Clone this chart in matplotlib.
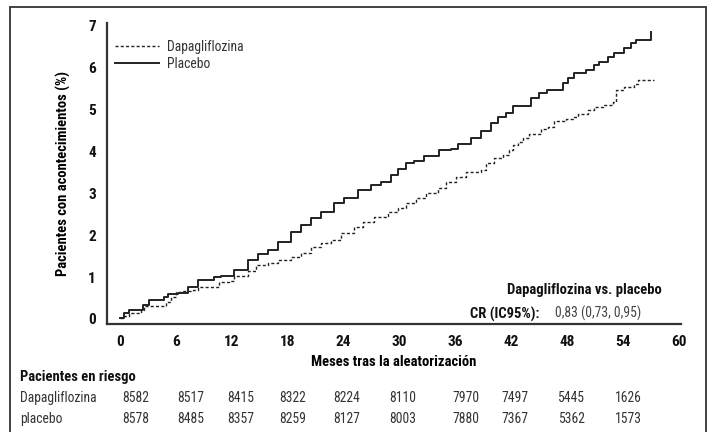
import matplotlib
matplotlib.use("Agg")
import matplotlib.pyplot as plt
from matplotlib import font_manager
from matplotlib.patches import Rectangle

# pick a condensed sans family if one is installed
_names = {f.name for f in font_manager.fontManager.ttflist}
_wanted = ["Liberation Sans Narrow", "Roboto Condensed", "DejaVu Sans Condensed",
           "Open Sans Condensed", "Noto Sans Condensed", "Arial Narrow"]
FONT = next((n for n in _wanted if n in _names), None)
CONDENSED = FONT is not None
if FONT is None:
    FONT = "DejaVu Sans"
plt.rcParams["font.family"] = [FONT, "DejaVu Sans"]
plt.rcParams["font.stretch"] = "condensed"

# Kaplan-Meier style cumulative incidence (%), months since randomisation
placebo_months = [0, 0.43, 0.97, 2.47, 3.11, 4.72, 5.15, 6.22, 7.30, 8.37, 10.09, 10.84,
                  12.23, 13.73, 14.81, 15.88, 16.95, 18.35, 19.42, 20.49, 21.57, 22.96,
                  24.03, 25.54, 26.93, 28.0, 29.08, 29.83, 30.69, 31.55, 32.62, 34.23,
                  35.52, 36.27, 37.66, 38.73, 39.81, 40.56, 41.42, 42.17, 44.10, 44.96,
                  45.82, 47.53, 48.07, 48.71, 50.0, 50.86, 51.39, 52.36, 53.0, 54.08,
                  54.83, 55.36, 56.97]
placebo_pct = [0.02, 0.14, 0.21, 0.33, 0.45, 0.53, 0.60, 0.62, 0.76, 0.93, 1.00, 1.03,
               1.17, 1.41, 1.55, 1.65, 1.84, 2.08, 2.25, 2.41, 2.56, 2.77,
               2.88, 3.08, 3.20, 3.27, 3.44, 3.58, 3.73, 3.77, 3.89, 4.04,
               4.06, 4.18, 4.32, 4.50, 4.68, 4.83, 4.92, 5.09, 5.28, 5.40,
               5.47, 5.64, 5.76, 5.88, 5.95, 6.07, 6.14, 6.26, 6.35, 6.47,
               6.59, 6.66, 6.86]

dapa_months = [0, 0.43, 0.97, 2.25, 2.58, 4.94, 5.47, 6.01, 6.76, 7.83, 8.37, 10.62,
               11.70, 12.23, 13.73, 14.59, 15.88, 16.95, 18.35, 19.42, 20.49, 21.57,
               22.64, 23.71, 25.11, 26.07, 27.25, 28.76, 29.83, 30.69, 31.76, 32.83,
               34.12, 34.98, 36.05, 37.12, 38.73, 39.27, 40.13, 41.09, 41.74, 42.17,
               42.70, 43.24, 43.88, 45.17, 45.92, 46.57, 47.85, 48.61, 49.14, 50.21,
               50.86, 51.82, 52.90, 53.22, 54.08, 55.15, 55.58, 57.30]
dapa_pct = [0.02, 0.07, 0.14, 0.21, 0.31, 0.41, 0.53, 0.64, 0.67, 0.69, 0.76, 0.88,
            0.91, 1.03, 1.15, 1.29, 1.34, 1.41, 1.48, 1.58, 1.72, 1.82,
            1.89, 2.05, 2.20, 2.32, 2.44, 2.56, 2.65, 2.77, 2.89, 3.01,
            3.13, 3.27, 3.39, 3.51, 3.56, 3.73, 3.85, 3.92, 4.04, 4.16,
            4.23, 4.32, 4.42, 4.54, 4.59, 4.73, 4.78, 4.83, 4.90, 4.99,
            5.06, 5.11, 5.18, 5.47, 5.54, 5.61, 5.71, 5.71]

x_ticks = [0, 6, 12, 18, 24, 30, 36, 42, 48, 54, 60]
y_ticks = [0, 1, 2, 3, 4, 5, 6, 7]

# patients at risk
risk_groups = ["Dapagliflozina", "placebo"]
risk_dapa = [8582, 8517, 8415, 8322, 8224, 8110, 7970, 7497, 5445, 1626]
risk_placebo = [8578, 8485, 8357, 8259, 8127, 8003, 7880, 7367, 5362, 1573]

# font sizes (smaller when only a regular-width family is present)
k = 1.0 if CONDENSED else 0.86
FS_TICK = 11 * k
FS_LAB = 10.5 * k
FS_TXT = 9.8 * k

W, H = 713, 432
fig = plt.figure(figsize=(W / 100, H / 100), dpi=100)

def fx(px):
    return px / W

def fy(py):
    return 1 - py / H

# outer frame
fig.patches.append(Rectangle((fx(9.5), fy(440)), fx(706) - fx(9.5), fy(7) - fy(440),
                             transform=fig.transFigure, fill=False,
                             edgecolor="#333333", linewidth=1.3))

ax = fig.add_axes([fx(107), fy(324), fx(681) - fx(107), fy(23) - fy(324)])
ax.step(dapa_months, dapa_pct, where="post", color="#222222", linewidth=1.0,
        linestyle=(0, (2.2, 1.6)), label="Dapagliflozina")
ax.step(placebo_months, placebo_pct, where="post", color="#222222", linewidth=1.4,
        label="Placebo")

ax.set_xlim(-1.4, 60.2)
ax.set_ylim(-0.12, 7.07)
ax.set_xticks(x_ticks)
ax.set_yticks(y_ticks)
ax.tick_params(length=0, labelsize=FS_TICK)
ax.tick_params(axis="x", pad=8)
ax.tick_params(axis="y", pad=8)
for lab in ax.get_xticklabels() + ax.get_yticklabels():
    lab.set_fontweight("bold")
    lab.set_color("#111111")
for s in ("top", "right"):
    ax.spines[s].set_visible(False)
for s in ("left", "bottom"):
    ax.spines[s].set_linewidth(1.6)
    ax.spines[s].set_color("#333333")

ax.set_xlabel("Meses tras la aleatorización", fontsize=FS_LAB, fontweight="bold", labelpad=4)
ax.set_ylabel("Pacientes con acontecimientos (%)", fontsize=FS_LAB, fontweight="bold",
              labelpad=12)

leg = ax.legend(loc="upper left", bbox_to_anchor=(0.0, 0.97), frameon=False,
                fontsize=FS_TXT, handlelength=3.2, handletextpad=0.6, labelspacing=0.2,
                borderaxespad=0.2)
for t in leg.get_texts():
    t.set_color("#333333")

# hazard ratio text
fig.text(fx(662), fy(290), "Dapagliflozina vs. placebo", ha="right", va="center",
         fontsize=FS_LAB, fontweight="bold", color="#111111")
fig.text(fx(539), fy(314), "CR (IC95%):", ha="right", va="center",
         fontsize=FS_LAB, fontweight="bold", color="#111111")
fig.text(fx(555), fy(313), "0,83 (0,73, 0,95)", ha="left", va="center",
         fontsize=FS_TXT, color="#444444")

# at-risk table
col_x = [136, 191, 241, 293, 347, 403, 466, 515, 571, 628]
fig.text(fx(20), fy(377), "Pacientes en riesgo", ha="left", va="center",
         fontsize=FS_LAB, fontweight="bold", color="#111111")
for row_y, name, values in zip([398, 419], risk_groups, [risk_dapa, risk_placebo]):
    fig.text(fx(20), fy(row_y), name, ha="left", va="center", fontsize=FS_TXT,
             color="#333333")
    for cx, v in zip(col_x, values):
        fig.text(fx(cx), fy(row_y), str(v), ha="center", va="center",
                 fontsize=FS_TXT, color="#333333")

fig.savefig("out.png", dpi=100)
